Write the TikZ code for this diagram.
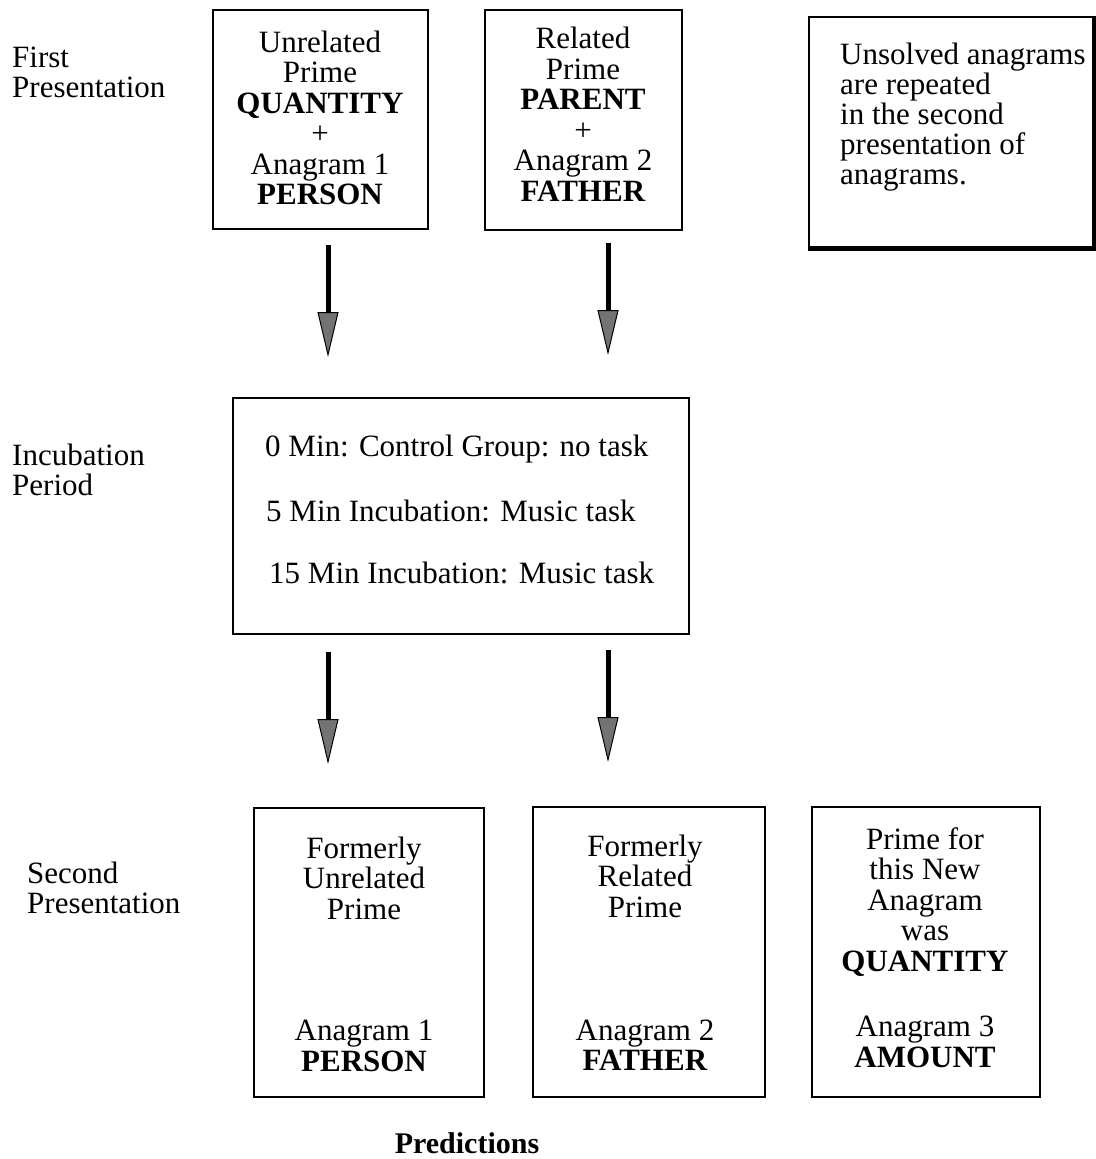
\documentclass[tikz,border=0pt]{standalone}
\usepackage{fontspec}
\setmainfont{Liberation Serif}
\usetikzlibrary{arrows.meta}
\begin{document}
\begin{tikzpicture}[x=1pt,y=-1pt,
  box/.style={draw, line width=2pt, inner sep=0pt},
  txt/.style={align=center, font=\fontsize{31}{30.5}\selectfont, inner sep=0pt},
  lefttxt/.style={align=left, anchor=west, font=\fontsize{31}{30}\selectfont, inner sep=0pt},
  bigarrow/.style={line width=5pt, -{Triangle[length=45pt,width=21pt,fill=black!55,line width=1pt]}}]
\useasboundingbox (0,0) rectangle (1095,1159);
% side labels
\node[lefttxt] (lfirst) at (12,72) {First\\Presentation};
\node[lefttxt] (linc) at (12,470) {Incubation\\Period};
\node[lefttxt] (lsec) at (27,888) {Second\\Presentation};
% top row
\node[box, minimum width=215pt, minimum height=219pt] (b1) at (320.5,119.5) {};
\node[txt] (t1) at (320,118) {Unrelated\\Prime\\\textbf{QUANTITY}\\+\\Anagram 1\\\textbf{PERSON}};
\node[box, minimum width=197pt, minimum height=220pt] (b2) at (583.5,120) {};
\node[txt] (t2) at (583,114) {Related\\Prime\\\textbf{PARENT}\\+\\Anagram 2\\\textbf{FATHER}};
\node[draw, line width=2.5pt, minimum width=284pt, minimum height=230pt, inner sep=0pt] (b3) at (951,132) {};
\draw[line width=4.5pt] (b3.north east) -- (b3.south east) -- (b3.south west);
\node[lefttxt] (t3) at (840,117) {Unsolved anagrams\\are repeated\\in the second\\presentation of\\anagrams.};
% arrows 1
\coordinate (a1s) at (328,245);
\coordinate (a1e) at (328,357);
\coordinate (a2s) at (608,243);
\coordinate (a2e) at (608,355);
\draw[bigarrow] (a1s) -- (a1e);
\draw[bigarrow] (a2s) -- (a2e);
% incubation
\node[box, minimum width=456pt, minimum height=236pt] (inc) at (461,516) {};
\node[lefttxt] (i1) at (265,449) {0 Min: Control Group: no task};
\node[lefttxt] (i2) at (266,511) {5 Min Incubation: Music task};
\node[lefttxt] (i3) at (269,573) {15 Min Incubation: Music task};
% arrows 2
\coordinate (a3s) at (328,652);
\coordinate (a3e) at (328,764);
\coordinate (a4s) at (608,650);
\coordinate (a4e) at (608,762);
\draw[bigarrow] (a3s) -- (a3e);
\draw[bigarrow] (a4s) -- (a4e);
% bottom row
\node[box, minimum width=230pt, minimum height=289pt] (b4) at (369,952.5) {};
\node[txt] (t4a) at (364,878) {Formerly\\Unrelated\\Prime};
\node[txt] (t4b) at (364,1046) {Anagram 1\\\textbf{PERSON}};
\node[box, minimum width=232pt, minimum height=290pt] (b5) at (649,952) {};
\node[txt] (t5a) at (645,876) {Formerly\\Related\\Prime};
\node[txt] (t5b) at (645,1045) {Anagram 2\\\textbf{FATHER}};
\node[box, minimum width=228pt, minimum height=290pt] (b6) at (926,952) {};
\node[txt] (t6a) at (925,902) {Prime for\\this New\\Anagram\\was\\\textbf{QUANTITY}};
\node[txt] (t6b) at (925,1042) {Anagram 3\\\textbf{AMOUNT}};
\node[txt, font=\fontsize{30}{30}\selectfont\bfseries] (pred) at (467,1143) {Predictions};
\end{tikzpicture}
\end{document}
